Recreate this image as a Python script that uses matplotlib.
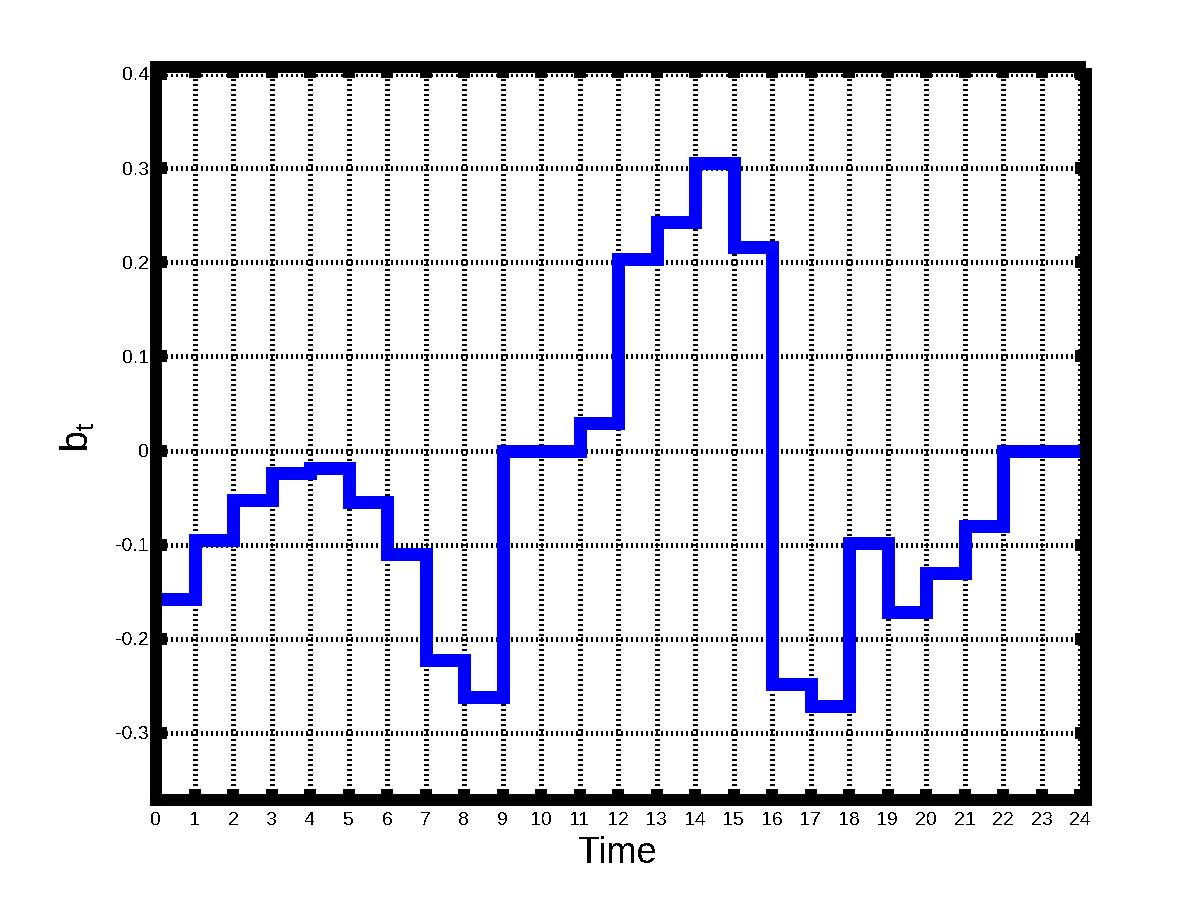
import matplotlib
matplotlib.use("Agg")
import matplotlib.pyplot as plt
import numpy as np

# ---- data ----
time_edges = list(range(0, 25))
b_values = [-0.158, -0.095, -0.052, -0.024, -0.018, -0.055, -0.110, -0.222,
            -0.262, 0.0, 0.0, 0.029, 0.203, 0.243, 0.305, 0.216,
            -0.248, -0.271, -0.098, -0.171, -0.130, -0.080, 0.0, 0.0]
x_ticks = list(range(0, 25))
x_tick_labels = [str(v) for v in x_ticks]
y_ticks = [-0.3, -0.2, -0.1, 0.0, 0.1, 0.2, 0.3, 0.4]
y_tick_labels = ['-0.3', '-0.2', '-0.1', '0', '0.1', '0.2', '0.3', '0.4']
x_label = 'Time'
y_label = r'b$_\mathrm{t}$'

plt.rcParams['font.family'] = ['Liberation Sans', 'DejaVu Sans']
plt.rcParams['mathtext.fontset'] = 'custom'
plt.rcParams['mathtext.rm'] = 'Liberation Sans'
plt.rcParams['axes.unicode_minus'] = False
plt.rcParams['text.antialiased'] = False

W, H = 1200, 900
fig = plt.figure(figsize=(12, 9), dpi=100)
left, right, top, bottom = 156, 1080, 74, 800
ax = fig.add_axes([left / W, 1 - bottom / H, (right - left) / W, (bottom - top) / H])

# step line
xs = np.array(time_edges, dtype=float)
ys = np.array(b_values + [b_values[-1]], dtype=float)
ax.step(xs, ys, where='post', color='#0000ff', linewidth=9.0,
        solid_joinstyle='miter', solid_capstyle='butt', antialiased=False, zorder=3)

ax.set_xlim(0, 24)
ax.set_ylim(-0.3712, 0.4)

ax.set_xticks(x_ticks)
ax.set_xticklabels(x_tick_labels)
ax.set_yticks(y_ticks)
ax.set_yticklabels(y_tick_labels)

ax.tick_params(axis='both', which='major', direction='in', length=8, width=8.6,
               color='black', labelsize=14, top=True, right=True,
               labelcolor='black')
ax.tick_params(axis='x', pad=8.5)
ax.tick_params(axis='y', pad=5)

# dotted grid
ax.grid(True, which='major', color='black', linewidth=3.6,
        linestyle=(0, (0.2, 0.6)), antialiased=False, zorder=1)
ax.set_axisbelow(True)

for name, sp in ax.spines.items():
    sp.set_linewidth(8.6)
    sp.set_color('black')
    sp.set_capstyle('projecting')
    sp.set_zorder(4)
ax.spines['top'].set_position(('outward', 5.0))
ax.spines['right'].set_position(('outward', 4.3))

ax.set_xlabel(x_label, fontsize=26)
ax.set_ylabel(y_label, fontsize=27)
ax.xaxis.set_label_coords(0.5, -0.05)
ax.yaxis.set_label_coords(-0.064, 0.5)

fig.savefig('out.png', dpi=100)
